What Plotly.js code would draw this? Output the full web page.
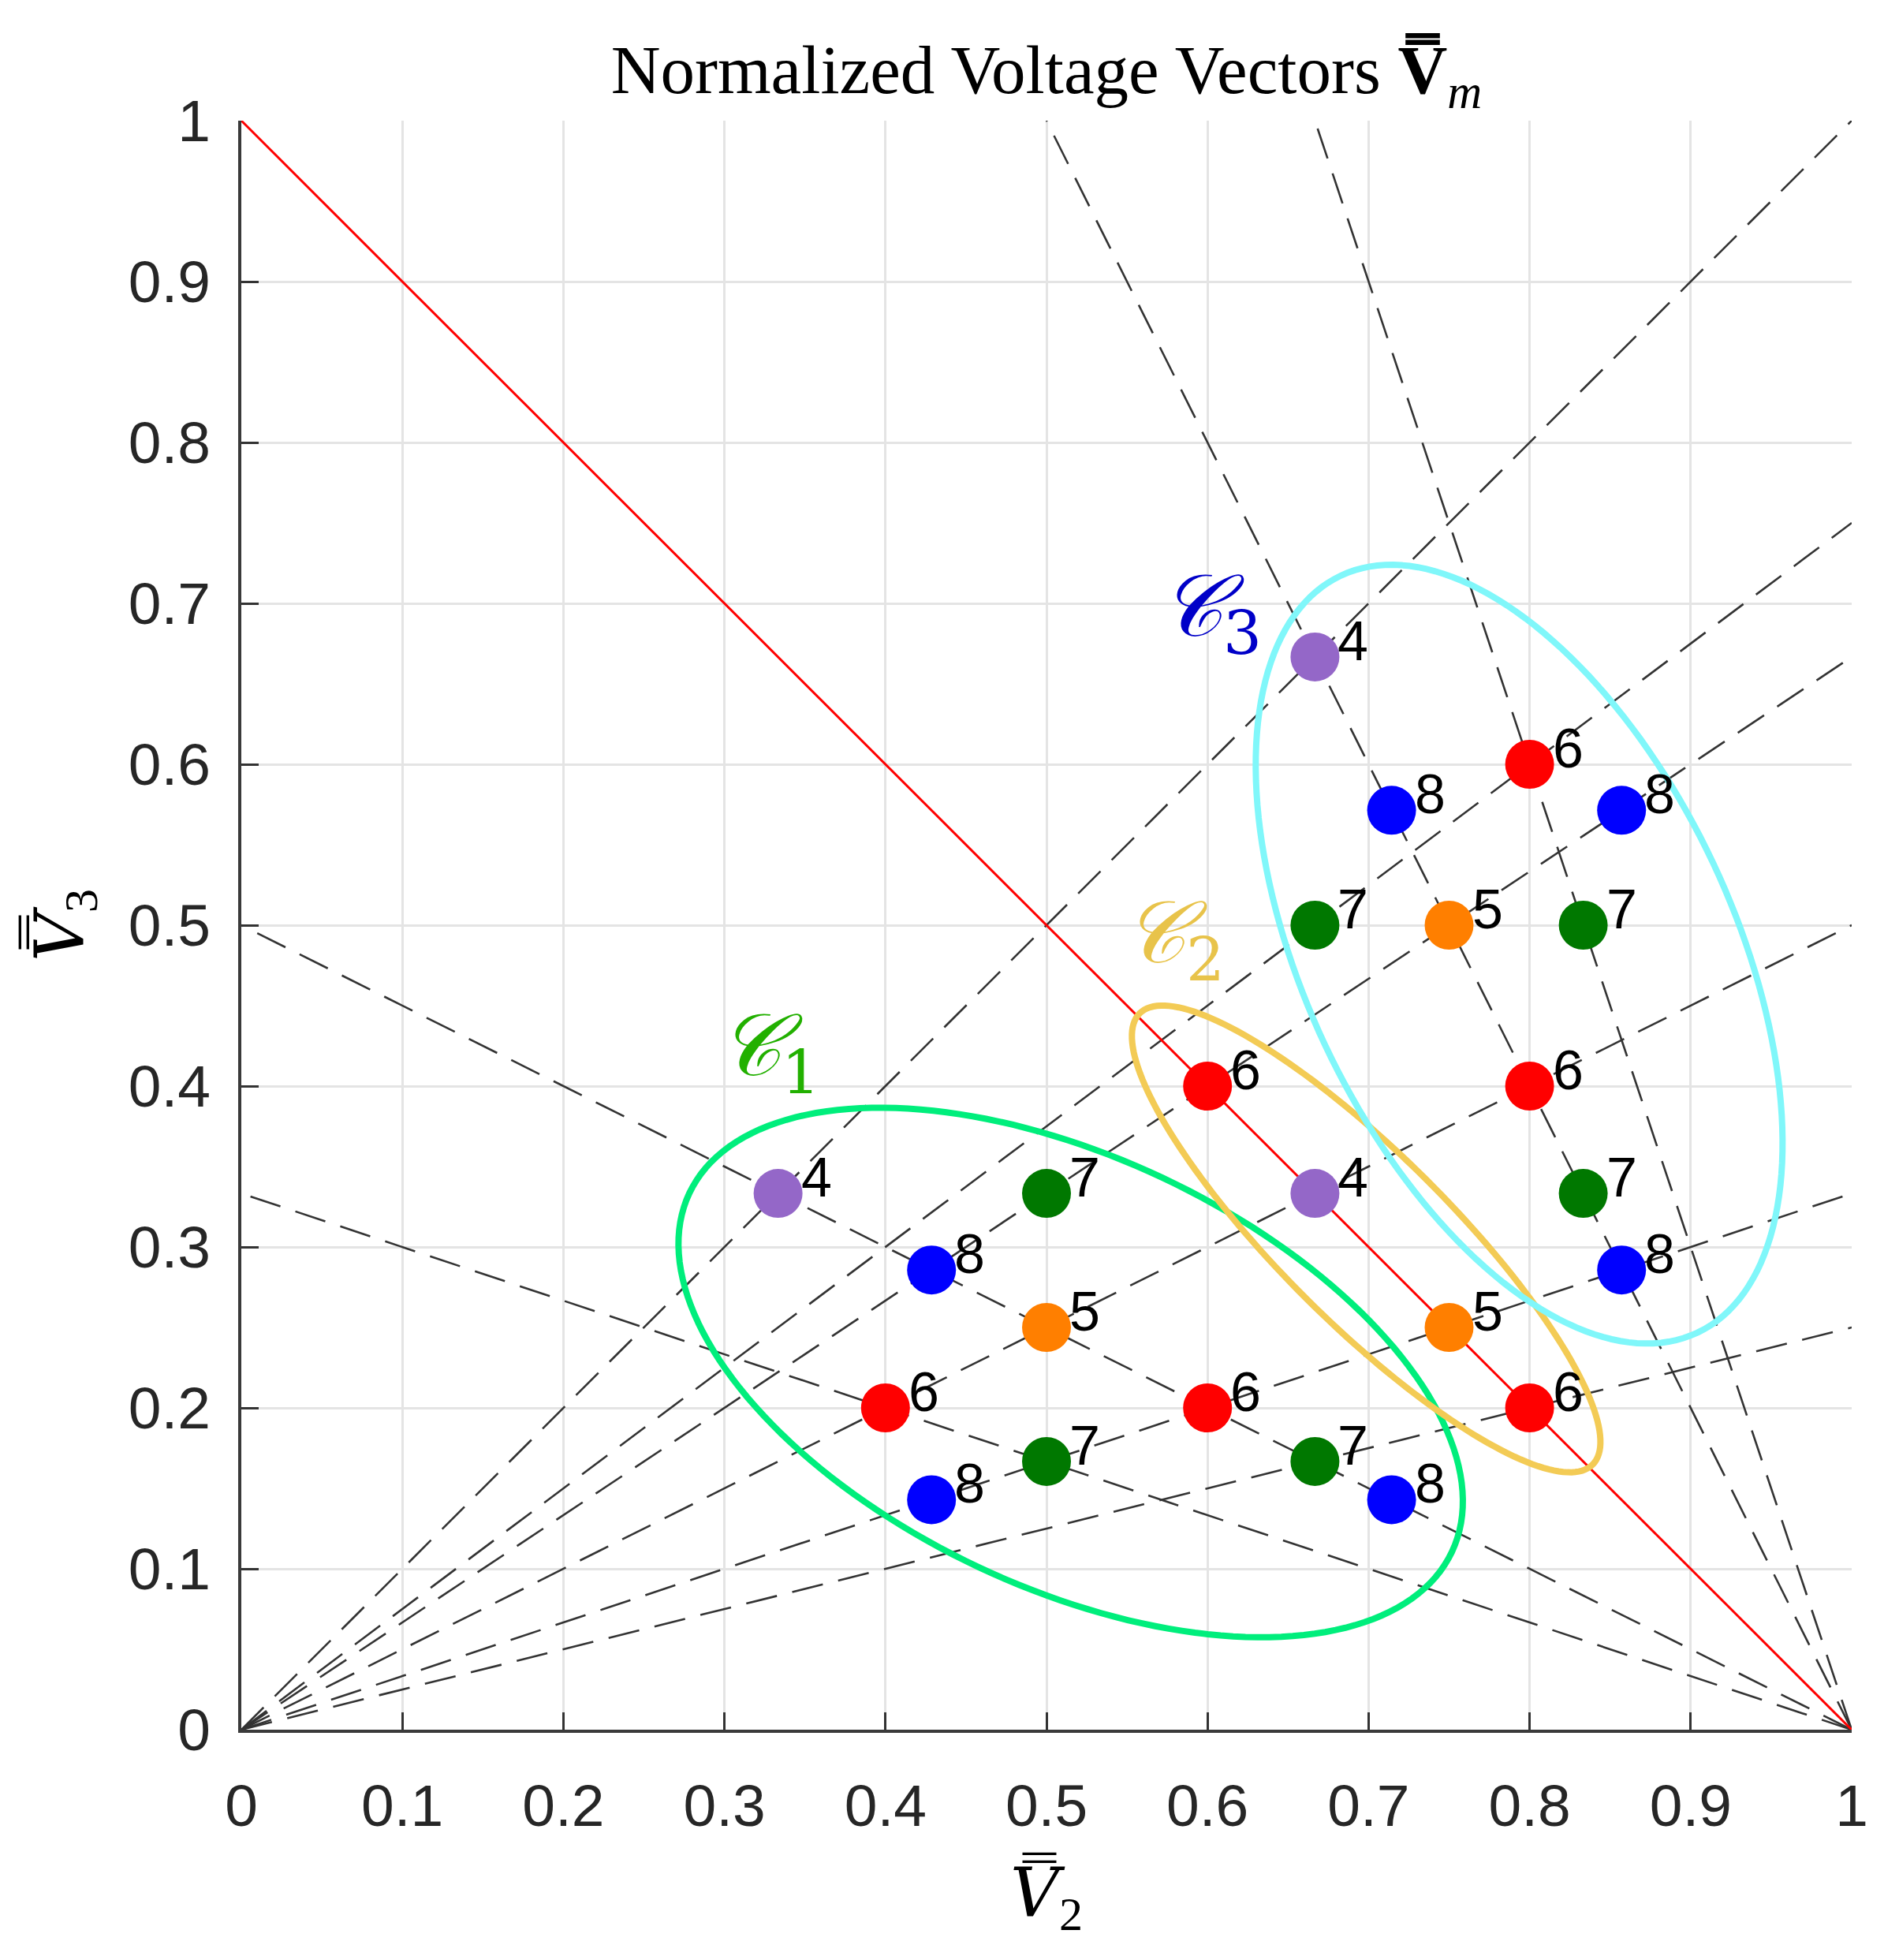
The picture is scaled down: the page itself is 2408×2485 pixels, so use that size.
<!DOCTYPE html>
<html>
<head>
<meta charset="utf-8">
<script src="https://cdn.plot.ly/plotly-3.0.1.min.js"></script>
<style>html,body{margin:0;padding:0;background:#fff;}</style>
</head>
<body>
<div id="chart" style="width:2408px;height:2485px;"></div>
<script>
// ---- data ----
const ptX = [0.3333, 0.4286, 0.5, 0.5, 0.4, 0.6, 0.4286, 0.5, 0.6667, 0.7143,
             0.6, 0.6667, 0.75, 0.8,
             0.6667, 0.8, 0.7143, 0.8571, 0.6667, 0.75, 0.8333, 0.8, 0.8333, 0.8571];
const ptY = [0.3333, 0.2857, 0.3333, 0.25, 0.2, 0.2, 0.1429, 0.1667, 0.1667, 0.1429,
             0.4, 0.3333, 0.25, 0.2,
             0.6667, 0.6, 0.5714, 0.5714, 0.5, 0.5, 0.5, 0.4, 0.3333, 0.2857];
const ptLabel = ['4','8','7','5','6','6','8','7','7','8',
                 '6','4','5','6',
                 '4','6','8','8','7','5','7','6','7','8'];

// dashed guide lines from the origin, end points on x = 1
const rayOriginEndX = [1, 1, 1, 1, 1, 1];
const rayOriginEndY = [1, 0.75, 0.6667, 0.5, 0.3333, 0.25];
// dashed guide lines from (1,0)
const rayCornerEndX = [0, 0, 0.5, 0.6667];
const rayCornerEndY = [0.5, 0.3333, 1, 1];
// solid red line
const redLineX = [0, 1];
const redLineY = [1, 0];

// cluster ellipses C1, C2, C3
const clusterName = ['C1', 'C2', 'C3'];
const ellCx = [0.515, 0.6985, 0.7935];
const ellCy = [0.222, 0.305, 0.482];
const ellA = [0.2617, 0.1986, 0.260];
const ellB = [0.1338, 0.0525, 0.1331];
const ellAngleDeg = [-25.2, -44.9, -64.8];
const clusterLabelX = [0.328, 0.579, 0.602];
const clusterLabelY = [0.4216, 0.492, 0.695];
const clusterSub = ['1', '2', '3'];

const xTicks = [0, 0.1, 0.2, 0.3, 0.4, 0.5, 0.6, 0.7, 0.8, 0.9, 1];
const xTickText = ['0','0.1','0.2','0.3','0.4','0.5','0.6','0.7','0.8','0.9','1'];

// ---- styles ----
const labelColor = {'4': '#9467c8', '5': '#ff7f00', '6': '#ff0000', '7': '#007800', '8': '#0000ff'};
const ellColor = ['#00ee7c', '#f3cb55', '#80f7fa'];
const clusterLabelColor = ['#22b000', '#e8c34a', '#0000c8'];

const traces = [];
const dashStyle = {color: '#333333', width: 2.6, dash: '40px,20px'};
for (let i = 0; i < rayOriginEndX.length; i++) {
  traces.push({x: [0, rayOriginEndX[i]], y: [0, rayOriginEndY[i]], mode: 'lines',
    line: dashStyle, hoverinfo: 'skip', showlegend: false, cliponaxis: false});
}
for (let i = 0; i < rayCornerEndX.length; i++) {
  traces.push({x: [1, rayCornerEndX[i]], y: [0, rayCornerEndY[i]], mode: 'lines',
    line: dashStyle, hoverinfo: 'skip', showlegend: false, cliponaxis: false});
}
traces.push({x: redLineX, y: redLineY, mode: 'lines', line: {color: '#ff0000', width: 3},
  hoverinfo: 'skip', showlegend: false});

traces.push({x: ptX, y: ptY, mode: 'markers', showlegend: false,
  marker: {size: 62, color: ptLabel.map(l => labelColor[l]), line: {width: 0}}});

// ellipse shapes
const shapes = [];
for (let k = 0; k < ellCx.length; k++) {
  const th = ellAngleDeg[k] * Math.PI / 180;
  const N = 180;
  let d = '';
  for (let j = 0; j <= N; j++) {
    const t = 2 * Math.PI * j / N;
    const px = ellCx[k] + ellA[k] * Math.cos(th) * Math.cos(t) - ellB[k] * Math.sin(th) * Math.sin(t);
    const py = ellCy[k] + ellA[k] * Math.sin(th) * Math.cos(t) + ellB[k] * Math.cos(th) * Math.sin(t);
    d += (j === 0 ? 'M' : 'L') + px.toFixed(5) + ',' + py.toFixed(5);
  }
  d += 'Z';
  shapes.push({type: 'path', xref: 'x', yref: 'y', path: d, layer: 'above',
    line: {color: ellColor[k], width: 8}});
}

const annotations = [];
for (let i = 0; i < ptX.length; i++) {
  annotations.push({x: ptX[i], y: ptY[i], xref: 'x', yref: 'y', text: ptLabel[i],
    showarrow: false, xanchor: 'left', yanchor: 'middle', xshift: 27, yshift: 20,
    font: {family: 'Liberation Sans, Arial, sans-serif', size: 70, color: '#000'}});
}
for (let k = 0; k < clusterName.length; k++) {
  annotations.push({x: clusterLabelX[k], y: clusterLabelY[k], xref: 'x', yref: 'y',
    text: '<i>\u{1D49E}</i><sub>' + clusterSub[k] + '</sub>', showarrow: false,
    xanchor: 'center', yanchor: 'middle',
    font: {family: 'DejaVu Serif, DejaVu Sans, serif', size: 110, color: clusterLabelColor[k]}});
}

const axisCommon = {
  range: [0, 1], tickvals: xTicks, ticktext: xTickText,
  showgrid: true, gridcolor: '#e4e4e4', gridwidth: 3,
  zeroline: false, showline: true, linecolor: '#3a3a3a', linewidth: 4,
  ticks: 'inside', ticklen: 22, tickwidth: 3, tickcolor: '#333333',
  tickfont: {family: 'Liberation Sans, Arial, sans-serif', size: 75, color: '#262626'},
  fixedrange: true, mirror: false
};

const vbar = '<span style="font-family:DejaVu Serif"><i>V\u033F</i></span>';

const layout = {
  width: 2408, height: 2485,
  margin: {l: 306, r: 60, t: 153, b: 292},
  paper_bgcolor: '#ffffff', plot_bgcolor: '#ffffff',
  title: {text: 'Normalized Voltage Vectors <b>V\u033F</b><sub><i>m</i></sub>',
    x: 0.5, xref: 'paper', xanchor: 'center', y: 1 - 88 / 2485, yref: 'container', yanchor: 'middle',
    font: {family: 'Liberation Serif, Times New Roman, serif', size: 87, color: '#000'}},
  xaxis: Object.assign({}, axisCommon, {
    ticklabelstandoff: 28,
    title: {text: vbar + '<sub>2</sub>', standoff: 40,
      font: {family: 'Liberation Serif, Times New Roman, serif', size: 86, color: '#000'}}
  }),
  yaxis: Object.assign({}, axisCommon, {
    ticklabelstandoff: 20,
    title: {text: vbar + '<sub>3</sub>', standoff: 30,
      font: {family: 'Liberation Serif, Times New Roman, serif', size: 86, color: '#000'}}
  }),
  shapes: shapes,
  annotations: annotations,
  showlegend: false
};

Plotly.newPlot('chart', traces, layout, {staticPlot: true, displayModeBar: false});
</script>
</body>
</html>
